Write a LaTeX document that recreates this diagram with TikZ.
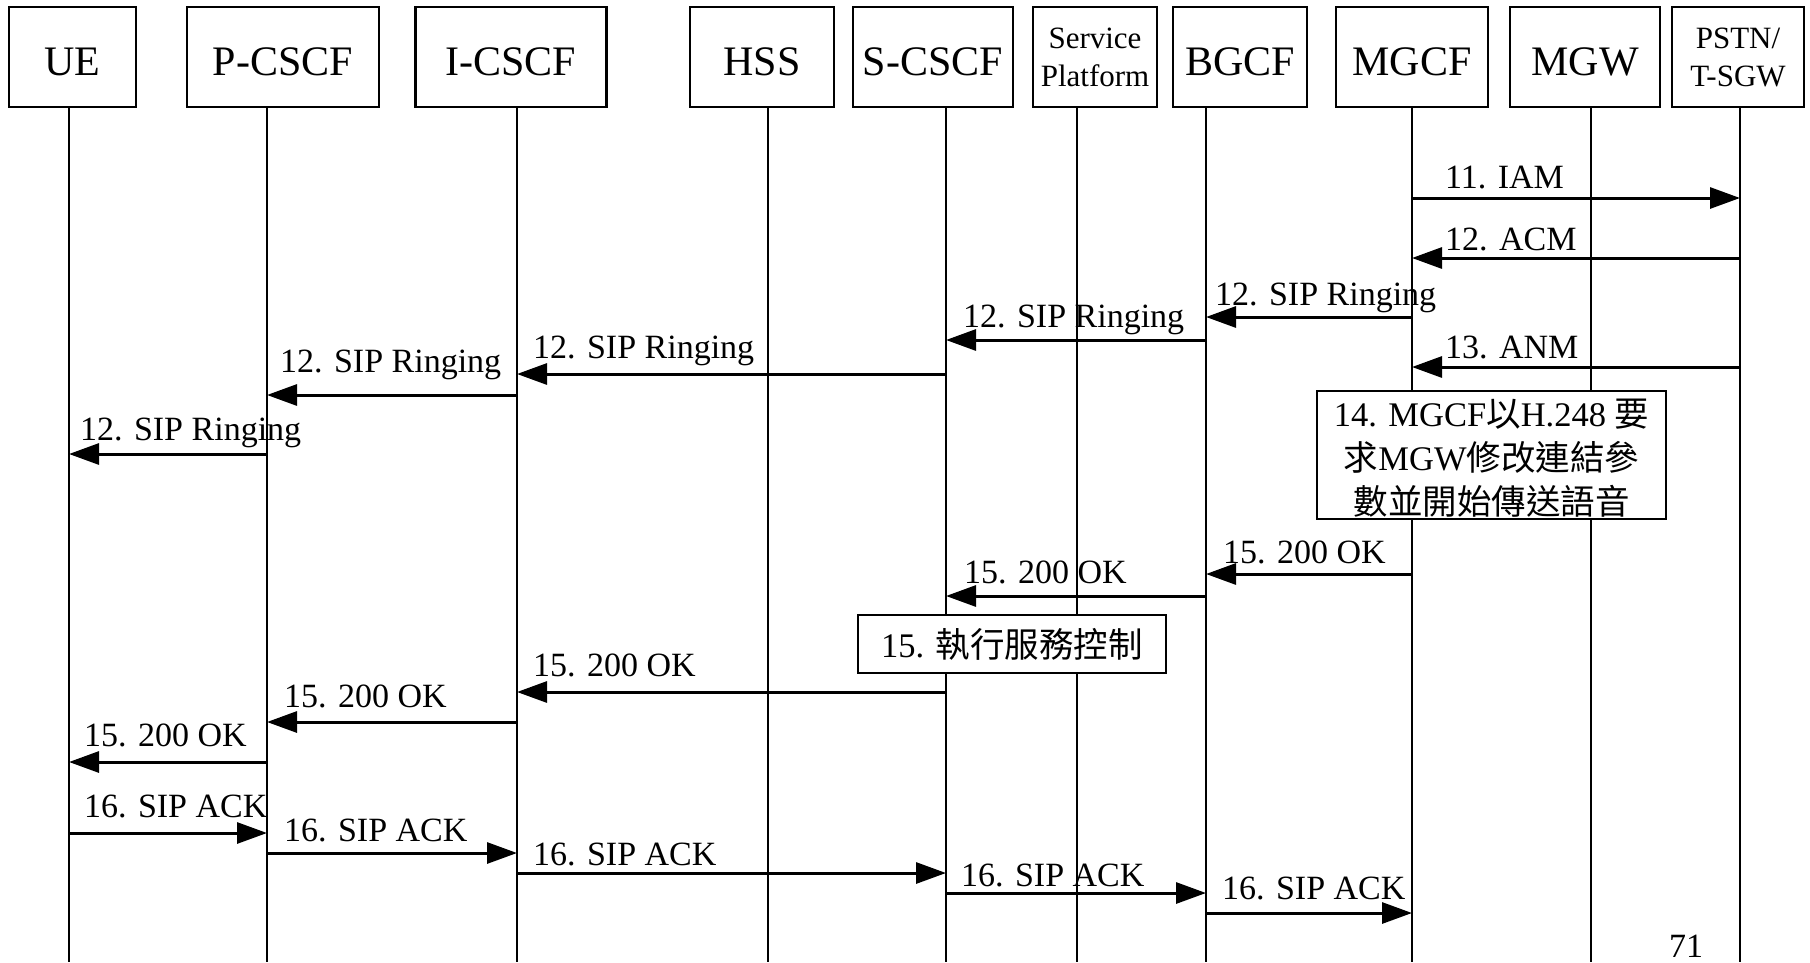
\documentclass[tikz,border=0pt]{standalone}
\usepackage{fontspec}
\setmainfont{Liberation Serif}
\newfontfamily\cjk{Noto Sans CJK TC}
\usetikzlibrary{arrows.meta}
\begin{document}
\begin{tikzpicture}[x=1pt,y=-1pt,
  actor/.style={draw, line width=2.5pt, minimum height=100pt, inner sep=0pt,
    font=\fontsize{42}{50}\selectfont, text height=36pt, text depth=0pt},
  actortwo/.style={draw, line width=2.5pt, minimum height=100pt, inner sep=0pt,
    font=\fontsize{31}{38}\selectfont, align=center},
  life/.style={line width=2pt},
  msg/.style={line width=3pt, -{Triangle[length=30pt,width=21pt]}},
  lbl/.style={anchor=base west, inner sep=0pt, font=\fontsize{34}{40}\selectfont},
  note/.style={draw, fill=white, line width=2.5pt, inner sep=0pt, align=center,
    font=\fontsize{34.5}{44}\selectfont}]

\useasboundingbox[fill=white] (0,0) rectangle (1810,962);

% participants
\node[actor, minimum width=127pt] (ue) at (72.5,57) {UE};
\node[actor, minimum width=192pt] (pcscf) at (283,57) {P-CSCF};
\node[actor, minimum width=191pt] (icscf) at (511,57) {I-CSCF};
\node[actor, minimum width=144pt] (hss) at (762,57) {HSS};
\node[actor, minimum width=160pt] (scscf) at (933,57) {S-CSCF};
\node[actortwo, minimum width=124pt] (sp) at (1095,57) {Service\\Platform};
\node[actor, minimum width=134pt] (bgcf) at (1240,57) {BGCF};
\node[actor, minimum width=152pt] (mgcf) at (1412,57) {MGCF};
\node[actor, minimum width=150pt] (mgw) at (1585,57) {MGW};
\node[actortwo, minimum width=132pt] (pstn) at (1738,57) {PSTN/\\T-SGW};

% lifelines
\foreach \n/\x in {ue/69, pcscf/267, icscf/517, hss/768, scscf/946,
                   sp/1077, bgcf/1206, mgcf/1412, mgw/1591, pstn/1740} {
  \coordinate (\n-top) at (\x,107);
  \coordinate (\n-end) at (\x,962);
  \draw[life] (\n-top) -- (\n-end);
}

% call setup towards the PSTN
\draw[msg] (mgcf-top |- 0,198) -- (pstn-top |- 0,198);
\node[lbl] (m11) at (1445,188) {11. IAM};
\draw[msg] (pstn-top |- 0,258) -- (mgcf-top |- 0,258);
\node[lbl] (m12a) at (1445,250) {12. ACM};
\draw[msg] (mgcf-top |- 0,317) -- (bgcf-top |- 0,317);
\node[lbl] (m12b) at (1215,305) {12. SIP Ringing};
\draw[msg] (bgcf-top |- 0,340) -- (scscf-top |- 0,340);
\node[lbl] (m12c) at (963,327) {12. SIP Ringing};
\draw[msg] (pstn-top |- 0,367) -- (mgcf-top |- 0,367);
\node[lbl] (m13) at (1445,358) {13. ANM};
\draw[msg] (scscf-top |- 0,374) -- (icscf-top |- 0,374);
\node[lbl] (m12d) at (533,358) {12. SIP Ringing};
\draw[msg] (icscf-top |- 0,395) -- (pcscf-top |- 0,395);
\node[lbl] (m12e) at (280,372) {12. SIP Ringing};
\draw[msg] (pcscf-top |- 0,454) -- (ue-top |- 0,454);
\node[lbl] (m12f) at (80,440) {12. SIP Ringing};

% media gateway control
\node[note, minimum width=349pt, minimum height=128pt] (n14) at (1491.5,455)
  {\rule{0pt}{34pt}14. MGCF{\cjk 以}H.248 {\cjk 要}\\{\cjk 求}MGW{\cjk 修改連結參}\\{\cjk 數並開始傳送語音}};

% answer
\draw[msg] (mgcf-top |- 0,574) -- (bgcf-top |- 0,574);
\node[lbl] (m15a) at (1223,563) {15. 200 OK};
\draw[msg] (bgcf-top |- 0,596) -- (scscf-top |- 0,596);
\node[lbl] (m15b) at (964,583) {15. 200 OK};
\node[note, minimum width=308pt, minimum height=58pt] (n15) at (1012,644)
  {15. {\cjk 執行服務控制}};
\draw[msg] (scscf-top |- 0,692) -- (icscf-top |- 0,692);
\node[lbl] (m15c) at (533,676) {15. 200 OK};
\draw[msg] (icscf-top |- 0,722) -- (pcscf-top |- 0,722);
\node[lbl] (m15d) at (284,707) {15. 200 OK};
\draw[msg] (pcscf-top |- 0,762) -- (ue-top |- 0,762);
\node[lbl] (m15e) at (84,746) {15. 200 OK};

% acknowledgement
\draw[msg] (ue-top |- 0,833) -- (pcscf-top |- 0,833);
\node[lbl] (m16a) at (84,817) {16. SIP ACK};
\draw[msg] (pcscf-top |- 0,853) -- (icscf-top |- 0,853);
\node[lbl] (m16b) at (284,841) {16. SIP ACK};
\draw[msg] (icscf-top |- 0,873) -- (scscf-top |- 0,873);
\node[lbl] (m16c) at (533,865) {16. SIP ACK};
\draw[msg] (scscf-top |- 0,893) -- (bgcf-top |- 0,893);
\node[lbl] (m16d) at (961,886) {16. SIP ACK};
\draw[msg] (bgcf-top |- 0,913) -- (mgcf-top |- 0,913);
\node[lbl] (m16e) at (1222,899) {16. SIP ACK};

% page number
\node[lbl] (page) at (1669,957) {71};
\end{tikzpicture}
\end{document}
